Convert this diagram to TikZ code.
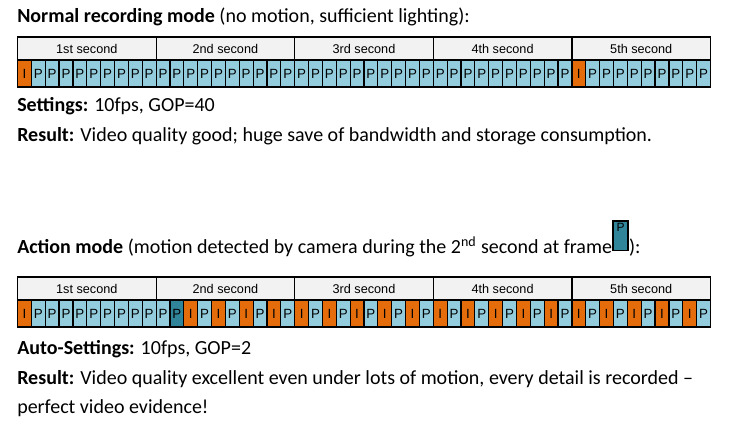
\documentclass[tikz,border=0pt]{standalone}
\usepackage{fontspec}
\setmainfont{Carlito}
\newfontfamily\barfont{Liberation Sans}
\usetikzlibrary{positioning}

\definecolor{iframe}{RGB}{228,108,10}
\definecolor{pframe}{RGB}{147,205,221}
\definecolor{mframe}{RGB}{49,133,155}
\definecolor{headgray}{RGB}{242,242,242}

\tikzset{
  txt/.style={anchor=base west, inner sep=0pt, font=\fontsize{15}{18}\selectfont},
  secbox/.style={draw=black, line width=0.9pt, fill=headgray, inner sep=0pt, outer sep=0pt,
    minimum width=103.95pt, minimum height=17.25pt, font=\barfont\fontsize{9.5}{11}\selectfont},
  cell/.style={draw=black, line width=0.9pt, inner sep=0pt, outer sep=0pt,
    minimum width=10.395pt, minimum height=20.25pt, font=\barfont\fontsize{10}{12}\selectfont},
  icell/.style={cell, fill=iframe},
  pcell/.style={cell, fill=pframe},
  mcell/.style={cell, fill=mframe},
  barframe/.style={draw=black, line width=1.4pt},
  iconbox/.style={draw=black, line width=1.2pt, fill=mframe, inner sep=0pt, outer sep=0pt,
    minimum width=11.5pt, minimum height=22pt},
  iconlabel/.style={anchor=north, inner sep=1.5pt, font=\barfont\fontsize{9}{10}\selectfont}
}

\begin{document}
\begin{tikzpicture}[x=0.75pt,y=0.75pt,yscale=-1,xscale=1]
\useasboundingbox (0,0) rectangle (729,435);

% Normal recording mode
\node (nTitle) [txt] at (17,23) {\textbf{Normal recording mode} (no motion, sufficient lighting):};

% seconds
\foreach \s/\lab in {0/1st,1/2nd,2/3rd,3/4th,4/5th}
  \node (nsec\s) [secbox] at ({17.5+138.6*\s+69.3},48.5) {\lab{} second};
% frames
\foreach \f in {0,40}
  \node (nfr\f) [icell] at ({17.5+13.86*(\f+0.5)},73.5) {I};
\foreach \f in {1,...,39}
  \node (nfr\f) [pcell] at ({17.5+13.86*(\f+0.5)},73.5) {P};
\foreach \f in {41,...,49}
  \node (nfr\f) [pcell] at ({17.5+13.86*(\f+0.5)},73.5) {P};
\draw [barframe] (nsec0.north west) rectangle (nfr49.south east);

\node (nSettings) [txt] at (17,112) {\textbf{Settings:} 10fps, GOP=40};
\node (nResult) [txt] at (17,142) {\textbf{Result:} Video quality good; huge save of bandwidth and storage consumption.};

% Action mode
\node (aTitle) [txt] at (17,253) {\textbf{Action mode} (motion detected by camera during the 2\textsuperscript{nd} second at frame};
\node (motionIcon) [iconbox, anchor=south west, label={[iconlabel]north:P}] at ([xshift=0.5pt,yshift=-2pt]aTitle.base east) {};
\node (aClose) [txt] at ([xshift=0.5pt]motionIcon.east |- aTitle.base) {):};

% seconds
\foreach \s/\lab in {0/1st,1/2nd,2/3rd,3/4th,4/5th}
  \node (asec\s) [secbox] at ({17.5+138.6*\s+69.3},288.5) {\lab{} second};
% frames
\node (afr0) [icell] at ({17.5+13.86*0.5},313.5) {I};
\foreach \f in {1,...,10}
  \node (afr\f) [pcell] at ({17.5+13.86*(\f+0.5)},313.5) {P};
\node (afr11) [mcell] at ({17.5+13.86*11.5},313.5) {P};
\foreach \f in {12,14,...,48}
  \node (afr\f) [icell] at ({17.5+13.86*(\f+0.5)},313.5) {I};
\foreach \f in {13,15,...,49}
  \node (afr\f) [pcell] at ({17.5+13.86*(\f+0.5)},313.5) {P};
\draw [barframe] (asec0.north west) rectangle (afr49.south east);

\node (aSettings) [txt] at (17,354) {\textbf{Auto-Settings:} 10fps, GOP=2};
\node (aResult) [txt] at (17,384) {\textbf{Result:} Video quality excellent even under lots of motion, every detail is recorded --};
\node (aResult2) [txt] at (17,413) {perfect video evidence!};

\end{tikzpicture}
\end{document}
